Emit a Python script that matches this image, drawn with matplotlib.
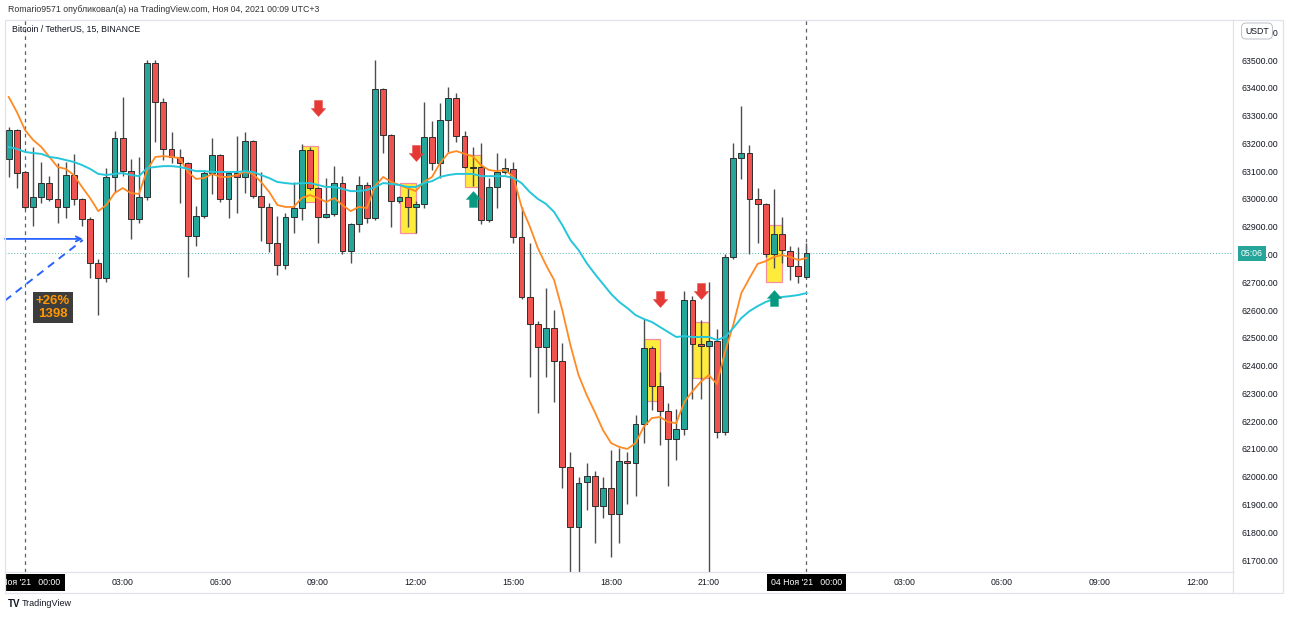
import numpy as np
import matplotlib
matplotlib.use("Agg")
import matplotlib.pyplot as plt
from matplotlib.path import Path
from matplotlib.patches import Rectangle
from matplotlib.lines import Line2D
from matplotlib.transforms import blended_transform_factory

plt.rcParams['font.family'] = ['Liberation Sans', 'DejaVu Sans']

W, H = 1290, 617

# BTCUSDT 15m, index 0 = 03 Nov 2021 00:00
idx = np.arange(-2, 97)

opens = [
    63144, 63248, 63097, 62971, 63007, 63057, 63000, 62971, 63086, 63000,
    62928, 62769, 62715, 63079, 63219, 63100, 62928, 63007, 63489, 63349,
    63180, 63151, 63129, 62866, 62938, 63093, 63158, 63000, 63093, 63079,
    63208, 63010, 62971, 62841, 62762, 62935, 62967, 63176, 63039, 62935,
    62946, 63057, 62812, 62910, 63050, 62931, 63396, 63230, 62992, 63007,
    62971, 62982, 63223, 63129, 63284, 63363, 63226, 63115, 63115, 62924,
    63043, 63097, 63108, 62863, 62647, 62550, 62467, 62535, 62416, 62035,
    61819, 61981, 62002, 61894, 61959, 61866, 62056, 62049, 62190, 62463,
    62326, 62236, 62136, 62172, 62636, 62478, 62470, 62488, 62161, 62792,
    63147, 63165, 63000, 62982, 62802, 62874, 62812, 62758, 62719]
highs = [
    63259, 63252, 63100, 63187, 63133, 63082, 63129, 63133, 63162, 63003,
    62935, 62784, 63111, 63244, 63367, 63144, 63151, 63500, 63500, 63363,
    63241, 63180, 63133, 62974, 63100, 63219, 63162, 63100, 63226, 63241,
    63212, 63097, 62985, 62938, 62949, 63061, 63198, 63187, 63043, 63075,
    63118, 63082, 62915, 63082, 63061, 63500, 63400, 63233, 63010, 63046,
    62992, 63349, 63280, 63345, 63403, 63381, 63244, 63187, 63201, 63075,
    63165, 63147, 63133, 62971, 62841, 62560, 62679, 62600, 62481, 62089,
    62000, 62049, 62020, 62000, 62096, 62103, 62089, 62222, 62568, 62470,
    62377, 62265, 62244, 62668, 62650, 62564, 62701, 62532, 62800, 63201,
    63334, 63194, 63039, 62985, 63036, 62935, 62830, 62827, 62841]
lows = [
    63079, 63039, 62965, 62902, 62985, 62993, 62913, 62931, 62978, 62902,
    62715, 62582, 62701, 63025, 63082, 62856, 62913, 62996, 63205, 63140,
    63129, 62985, 62719, 62830, 62931, 63018, 62989, 62931, 62949, 63021,
    63003, 62848, 62809, 62726, 62748, 62877, 62924, 63032, 62841, 62931,
    62938, 62802, 62769, 62881, 62913, 62924, 63165, 62899, 62985, 62899,
    62877, 62967, 63104, 63075, 63169, 63205, 63111, 63046, 62910, 62917,
    62967, 63090, 62841, 62640, 62359, 62229, 62359, 62269, 61959, 61640,
    61640, 61880, 61761, 61851, 61711, 61761, 61902, 61930, 62121, 62240,
    62114, 61966, 62060, 62150, 62280, 62280, 61640, 62139, 62150, 62785,
    63072, 62802, 62841, 62790, 62751, 62769, 62708, 62697, 62715]
closes = [
    63248, 63093, 62971, 63007, 63057, 63000, 62971, 63086, 63000, 62928,
    62769, 62715, 63079, 63219, 63100, 62928, 63007, 63489, 63349, 63180,
    63151, 63129, 62866, 62938, 63093, 63158, 63000, 63093, 63079, 63208,
    63010, 62971, 62841, 62762, 62935, 62967, 63176, 63039, 62935, 62946,
    63057, 62812, 62910, 63050, 62931, 63396, 63230, 62992, 63007, 62971,
    62982, 63223, 63129, 63284, 63363, 63226, 63115, 63111, 62924, 63043,
    63097, 63111, 62863, 62647, 62550, 62467, 62535, 62416, 62035, 61819,
    61977, 62002, 61894, 61959, 61866, 62056, 62049, 62190, 62463, 62326,
    62236, 62136, 62172, 62636, 62478, 62470, 62488, 62161, 62792, 63147,
    63165, 63000, 62982, 62802, 62874, 62816, 62758, 62722, 62805]

# moving averages
ema_fast = [
    63367, 63313, 63248, 63212, 63187, 63151, 63115, 63108, 63086, 63043,
    63003, 62956, 62978, 63021, 63039, 63021, 63018, 63104, 63151, 63154,
    63151, 63147, 63097, 63072, 63075, 63090, 63079, 63079, 63086, 63097,
    63090, 63061, 63025, 62978, 62971, 62971, 63003, 63014, 63003, 62989,
    63003, 62978, 62956, 62971, 62967, 63046, 63079, 63061, 63050, 63039,
    63028, 63061, 63079, 63129, 63165, 63172, 63162, 63154, 63122, 63104,
    63100, 63104, 63079, 62971, 62902, 62823, 62762, 62708, 62600, 62474,
    62366, 62294, 62233, 62168, 62121, 62107, 62100, 62121, 62179, 62211,
    62215, 62197, 62193, 62269, 62308, 62341, 62366, 62334, 62449, 62546,
    62661, 62715, 62766, 62776, 62791, 62798, 62791, 62780, 62787]
ema_slow = [
    63187, 63180, 63169, 63165, 63162, 63151, 63147, 63140, 63133, 63122,
    63108, 63090, 63086, 63090, 63093, 63086, 63082, 63111, 63115, 63118,
    63118, 63115, 63108, 63100, 63100, 63097, 63097, 63097, 63097, 63100,
    63097, 63086, 63075, 63061, 63057, 63054, 63057, 63057, 63050, 63043,
    63043, 63036, 63028, 63028, 63032, 63043, 63057, 63054, 63050, 63043,
    63043, 63057, 63064, 63079, 63086, 63090, 63090, 63090, 63082, 63082,
    63082, 63082, 63075, 63057, 63025, 63000, 62982, 62953, 62906, 62852,
    62816, 62769, 62730, 62694, 62658, 62629, 62607, 62582, 62568, 62557,
    62539, 62521, 62503, 62506, 62503, 62503, 62503, 62492, 62503, 62535,
    62571, 62596, 62614, 62629, 62640, 62647, 62650, 62654, 62661]

# highlight boxes (centre candle, low, high)
box_center = [35, 47, 55, 77, 83, 92]
box_lo = [62989, 62877, 63043, 62272, 62355, 62701]
box_hi = [63190, 63057, 63158, 62496, 62557, 62906]

# signal arrows
down_idx = [36, 48, 78, 83]
down_price = [63329, 63165, 62641, 62670]
up_idx = [55, 92]
up_price = [62998, 62645]

# drawing tools on the left
hline_price = 62856
hline_end = 7.1
dash_x = [-2.46, 7.1]
dash_y = [62634, 62852]
range_label = "+26%\n1398"
range_pos = (3.44, 62609)

last_price = 62805
timer_text = "05:06"

tick_pos = [12, 24, 36, 48, 60, 72, 84, 108, 120, 132, 144]
tick_lab = ["03:00", "06:00", "09:00", "12:00", "15:00", "18:00", "21:00",
            "03:00", "06:00", "09:00", "12:00"]
day_pos = [0, 96]
day_lab = ["03 Ноя '21   00:00", "04 Ноя '21   00:00"]

price_ticks = np.arange(61700, 63601, 100)

GREEN = '#26a69a'
RED = '#ef5350'
GRID = '#e0e3eb'

fig = plt.figure(figsize=(W / 100, H / 100), dpi=100)
L, R, T, B = 5, 1233, 20, 572
ax = fig.add_axes([L / W, 1 - B / H, (R - L) / W, (B - T) / H])
xlim = (-2.457, 148.4)
ax.set_xlim(*xlim)
ax.set_ylim(61657, 63644)

# candles
o = np.array(opens); c = np.array(closes)
up = c >= o
cols = np.where(up, GREEN, RED)
bottoms = np.minimum(o, c)
heights = np.maximum(np.abs(c - o), 4)
ax.vlines(idx, lows, highs, color='#4d4d4d', lw=1.0, zorder=2)
ax.bar(idx, heights, bottom=bottoms, width=0.72, color=cols,
       edgecolor='#2e2e2e', linewidth=0.7, zorder=3)

# moving averages
ax.plot(idx, ema_fast, color='#ff8a24', lw=1.3, zorder=4)
ax.plot(idx, ema_slow, color='#26c6da', lw=1.4, zorder=4)

# highlight boxes
for cx, lo, hi in zip(box_center, box_lo, box_hi):
    ax.add_patch(Rectangle((cx - 0.95, lo), 1.95, hi - lo, fc='#ffeb3b',
                           ec='#f48fa0', lw=0.9, zorder=1))

# arrows
arrow_down = Path([(-0.5, 1), (0.5, 1), (0.5, 0), (0.9, 0), (0, -1),
                   (-0.9, 0), (-0.5, 0), (-0.5, 1)], closed=True)
arrow_up = Path([(x, -y) for x, y in arrow_down.vertices], closed=True)
ax.plot(down_idx, down_price, ls='none', marker=arrow_down, ms=11.5,
        mfc='#e53935', mec='#e53935', mew=0.3, zorder=5)
ax.plot(up_idx, up_price, ls='none', marker=arrow_up, ms=11.5,
        mfc='#089981', mec='#089981', mew=0.3, zorder=5)

# vertical session lines and last price line
for d in day_pos:
    ax.axvline(d, color='#5d606b', lw=0.9, dashes=(3, 3), zorder=2.5)
ax.axhline(last_price, color=GREEN, lw=0.7, ls=(0, (1, 2)), alpha=0.8, zorder=1.5)

# blue drawings
ax.annotate('', xy=(hline_end, hline_price), xytext=(xlim[0], hline_price),
            arrowprops=dict(arrowstyle='->', color='#2962ff', lw=1.3,
                            mutation_scale=9, shrinkA=0, shrinkB=0), zorder=4)
ax.plot(dash_x, dash_y, color='#2962ff', lw=1.4, dashes=(4, 3), zorder=4)
ax.text(*range_pos, range_label, ha='center', va='center', color='#ff9800',
        fontsize=9.5, fontweight='bold', linespacing=1.05, zorder=6,
        bbox=dict(boxstyle='square,pad=0.25', fc='#3d3d3d', ec='none'))

ax.text(7 / (R - L), 1 - 9 / (B - T), 'Bitcoin / TetherUS, 15, BINANCE',
        transform=ax.transAxes, fontsize=6.3, color='#131722', va='center')

# price scale
ax.yaxis.tick_right()
ax.set_yticks(price_ticks)
ax.set_yticklabels([f"{v:.2f}" for v in price_ticks])
ax.tick_params(axis='y', length=0, pad=6, labelsize=6.3, labelcolor='#131722')
ax.set_xticks([])
for s in ['left', 'top']:
    ax.spines[s].set_visible(False)
for s in ['right', 'bottom']:
    ax.spines[s].set_color(GRID)
    ax.spines[s].set_linewidth(0.9)

tr = blended_transform_factory(ax.transAxes, ax.transData)
ax.text(1 + 19 / (R - L), last_price, timer_text, transform=tr, ha='center',
        va='center', color='white', fontsize=6.3, clip_on=False, zorder=7,
        bbox=dict(boxstyle='square,pad=0.35', fc=GREEN, ec='none'))

# time scale
ax_t = fig.add_axes([L / W, 1 - 593 / H, (R - L) / W, 21 / H])
ax_t.set_xlim(*xlim)
ax_t.set_ylim(0, 1)
ax_t.axis('off')
for p, lab in zip(tick_pos, tick_lab):
    ax_t.text(p, 0.5, lab, ha='center', va='center', fontsize=6.3, color='#131722')
for p, lab in zip(day_pos, day_lab):
    ax_t.text(p, 0.5, lab, ha='center', va='center', fontsize=6.3, color='white',
              clip_on=True, bbox=dict(boxstyle='square,pad=0.45', fc='black', ec='none'))

# frame
fig.add_artist(Rectangle((L / W, 1 - 593 / H), (1283 - L) / W, (593 - T) / H,
                         transform=fig.transFigure, fill=False, ec=GRID, lw=0.9))
fig.add_artist(Line2D([R / W, R / W], [1 - 593 / H, 1 - B / H],
                      transform=fig.transFigure, color=GRID, lw=0.9))

# header / footer / currency badge
fig.text(8 / W, 1 - 10 / H,
         'Romario9571 опубликовал(а) на TradingView.com, Ноя 04, 2021 00:09 UTC+3',
         fontsize=6.3, color='#333333', va='center')
fig.text(8 / W, 1 - 604 / H, 'TV', fontsize=7, fontweight='bold', color='#131722', va='center')
fig.text(22 / W, 1 - 604 / H, 'TradingView', fontsize=6.5, color='#131722', va='center')
fig.text(1257 / W, 1 - 31 / H, 'USDT', fontsize=6.3, color='#131722', ha='center', va='center',
         bbox=dict(boxstyle='round,pad=0.4,rounding_size=0.5', fc='white', ec='#b2b5be', lw=0.6))

fig.savefig('out.png', dpi=100)
